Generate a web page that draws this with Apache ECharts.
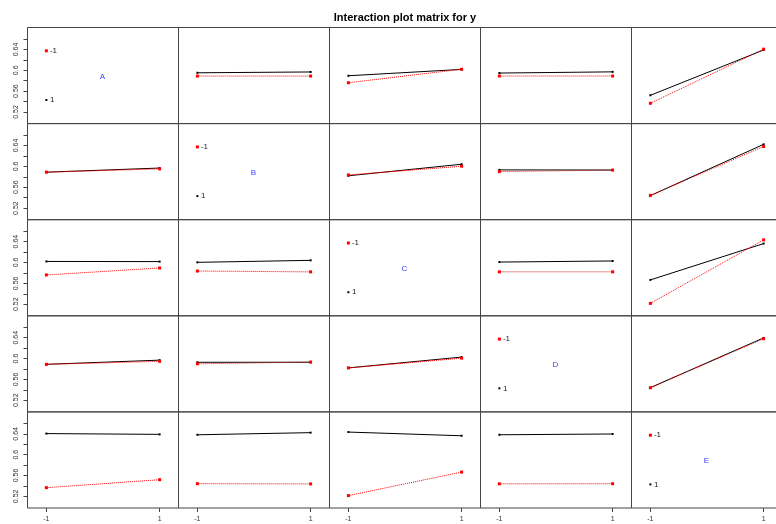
<!DOCTYPE html>
<html>
<head>
<meta charset="utf-8">
<title>Interaction plot matrix for y</title>
<script src="https://cdn.jsdelivr.net/npm/echarts@6/dist/echarts.min.js"></script>
<style>
  html, body { margin: 0; padding: 0; background: #fff; }
  #chart { width: 776px; height: 524px; }
</style>
</head>
<body>
<div id="chart"></div>
<script>
// Factors of the design and their coded levels
const factors = ['A', 'B', 'C', 'D', 'E'];
const levels = [-1, 1];

// Axis ticks
const xTicks = [-1, 1];
const yTicks = [0.52, 0.54, 0.56, 0.58, 0.60, 0.62, 0.64, 0.66];
const yTickLabels = [0.52, 0.56, 0.60, 0.64];

// Mean response for every pair of factors:
// rows = level (-1, 1) of the first factor, columns = level (-1, 1) of the second
const meansAB = [[0.5889, 0.5889], [0.5952, 0.5968]];
const meansAC = [[0.5761, 0.6020], [0.5895, 0.6017]];
const meansAD = [[0.5890, 0.5890], [0.5947, 0.5970]];
const meansAE = [[0.5367, 0.6405], [0.5520, 0.6390]];
const meansBC = [[0.5836, 0.6003], [0.5820, 0.6041]];
const meansBD = [[0.5900, 0.5929], [0.5933, 0.5930]];
const meansBE = [[0.5444, 0.6382], [0.5439, 0.6423]];
const meansCD = [[0.5821, 0.5821], [0.6008, 0.6029]];
const meansCE = [[0.5215, 0.6434], [0.5666, 0.6363]];
const meansDE = [[0.5441, 0.6382], [0.5443, 0.6397]];

const pairMeans = {
  AB: meansAB, AC: meansAC, AD: meansAD, AE: meansAE,
  BC: meansBC, BD: meansBD, BE: meansBE,
  CD: meansCD, CE: meansCE, DE: meansDE
};

// mean of y with factor fi at level index li and factor fj at level index lj
function cellMean(fi, li, fj, lj) {
  if (fi < fj) return pairMeans[factors[fi] + factors[fj]][li][lj];
  return pairMeans[factors[fj] + factors[fi]][lj][li];
}

// Panel layout (pixels)
const N = factors.length;
const ORIGIN_X = 27.5, ORIGIN_Y = 27.5;
const CELL_W = 151, CELL_H = 96.1;
const X_MIN = -4 / 3, X_MAX = 4 / 3;
const Y_MIN = 0.4977, Y_MAX = 0.6821;

const FONT = '"Liberation Sans", Arial, sans-serif';
const AXIS_TEXT = '#333';
const FRAME = '#444';
const LEVEL_COLORS = { '-1': '#ff0000', '1': '#000000' };

const grids = [], xAxes = [], yAxes = [], series = [], graphics = [];

function fmtY(v) { return String(parseFloat(Number(v).toFixed(2))); }

for (let i = 0; i < N; i++) {
  for (let j = 0; j < N; j++) {
    const g = i * N + j;
    const left = ORIGIN_X + CELL_W * j;
    const top = ORIGIN_Y + CELL_H * i;
    grids.push({
      left: left, top: top, width: CELL_W, height: CELL_H,
      show: true, borderColor: FRAME, borderWidth: 1,
      backgroundColor: 'transparent',
      containLabel: false, outerBoundsMode: 'none'
    });
    xAxes.push({
      gridIndex: g, type: 'value', min: X_MIN, max: X_MAX, position: 'bottom',
      axisLine: { show: false, onZero: false }, splitLine: { show: false },
      axisTick: { show: i === N - 1, customValues: xTicks, length: 4, lineStyle: { color: FRAME } },
      axisLabel: {
        show: i === N - 1, customValues: xTicks, fontSize: 7, color: AXIS_TEXT,
        fontFamily: FONT, margin: 8, formatter: v => String(v)
      }
    });
    yAxes.push({
      gridIndex: g, type: 'value', min: Y_MIN, max: Y_MAX, position: 'left',
      axisLine: { show: false, onZero: false }, splitLine: { show: false },
      axisTick: { show: j === 0, customValues: yTicks, length: 4, lineStyle: { color: FRAME } },
      axisLabel: {
        show: j === 0, customValues: yTickLabels, rotate: 90, fontSize: 7,
        color: AXIS_TEXT, fontFamily: FONT, margin: 8, formatter: fmtY
      }
    });

    if (i === j) {
      // diagonal: factor name and the level key for the traces in this row
      const xLow = left + (levels[0] - X_MIN) / (X_MAX - X_MIN) * CELL_W;
      const keyRows = [
        { text: '-1', color: LEVEL_COLORS['-1'], y: top + 23.3, size: 3 },
        { text: '1', color: LEVEL_COLORS['1'], y: top + 72.5, size: 2 }
      ];
      keyRows.forEach(k => {
        graphics.push({
          type: 'rect', silent: true,
          shape: { x: xLow - k.size / 2, y: k.y - k.size / 2, width: k.size, height: k.size },
          style: { fill: k.color }
        });
        graphics.push({
          type: 'text', silent: true,
          style: {
            text: k.text, x: xLow + 3.5, y: k.y, fontSize: 8, fontFamily: FONT,
            fill: '#222', align: 'left', verticalAlign: 'middle'
          }
        });
      });
      graphics.push({
        type: 'text', silent: true,
        style: {
          text: factors[i], x: left + 75, y: top + 49, fontSize: 8, fontFamily: FONT,
          fill: '#3a3aff', align: 'center', verticalAlign: 'middle'
        }
      });
      continue;
    }

    // one trace per level of the row factor, x-axis = column factor
    // level 1 (black, solid) is drawn first, level -1 (red, dotted) on top
    [1, 0].forEach(li => {
      const lvl = levels[li];
      const isLow = lvl === -1;
      series.push({
        name: String(lvl),
        type: 'line',
        xAxisIndex: g, yAxisIndex: g,
        data: levels.map((x, lj) => [x, cellMean(i, li, j, lj)]),
        symbol: 'rect',
        symbolSize: isLow ? 3 : 2,
        showSymbol: true,
        silent: true,
        animation: false,
        lineStyle: { color: LEVEL_COLORS[String(lvl)], width: 1, type: isLow ? 'dotted' : 'solid' },
        itemStyle: { color: LEVEL_COLORS[String(lvl)] }
      });
    });
  }
}

const chart = echarts.init(document.getElementById('chart'), null, { renderer: 'canvas' });
chart.setOption({
  animation: false,
  backgroundColor: '#ffffff',
  title: {
    text: 'Interaction plot matrix for y',
    left: 400, top: 7, textAlign: 'center',
    textStyle: { fontSize: 11, fontWeight: 'bold', color: '#000', fontFamily: FONT }
  },
  tooltip: { show: false },
  grid: grids,
  xAxis: xAxes,
  yAxis: yAxes,
  series: series,
  graphic: graphics
});
</script>
</body>
</html>
